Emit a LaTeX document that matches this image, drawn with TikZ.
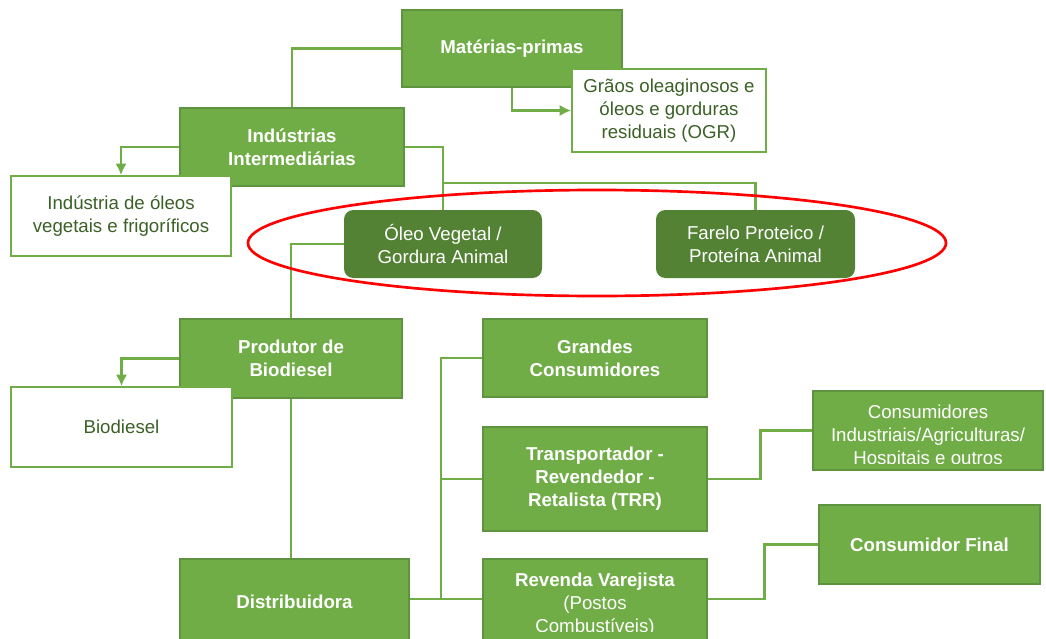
\documentclass[tikz,border=0pt]{standalone}
\usepackage{fontspec}
\setmainfont{Liberation Sans}
\usepackage{tikz}
\usetikzlibrary{arrows.meta}
\definecolor{verde}{HTML}{70AD47}
\definecolor{verdeborda}{HTML}{5E9440}
\definecolor{verdeescuro}{HTML}{548235}
\definecolor{textoverde}{HTML}{3B6127}

\begin{document}
\begin{tikzpicture}[x=0.75pt,y=-0.75pt]

\tikzset{txt/.style = {font=\fontsize{14}{17.25}\selectfont, align=center, inner sep=0pt}}
\tikzset{box/.style = {txt, draw=verdeborda, fill=verde, line width=1pt, text=white, font=\fontsize{14}{17.25}\selectfont\bfseries}}
\tikzset{wbox/.style = {txt, draw=verde, fill=white, line width=1.5pt, text=textoverde}}
\tikzset{dbox/.style = {txt, fill=verdeescuro, rounded corners=7pt, text=white}}
\tikzset{edge/.style = {draw=verde, line width=2pt}}
\tikzset{arrow/.style = {edge, -{Latex[length=8.5pt,width=8.5pt]}}}

\useasboundingbox (0,0) rectangle (1046,639);

% vertices
\node[box, minimum width=165pt, minimum height=57.75pt] (mat) at (512,48.5) {Matérias-primas};
\node[wbox, minimum width=145.5pt, minimum height=62.25pt] (grao) at (669,110.5) {Grãos oleaginosos e\\óleos e gorduras\\residuais (OGR)};
\node[box, minimum width=168pt, minimum height=58.5pt] (ind) at (292,147) {Indústrias\\Intermediárias};
\node[wbox, minimum width=165pt, minimum height=60pt] (ole) at (121,216) {Indústria de óleos\\vegetais e frigoríficos};
\node[dbox, minimum width=148.5pt, minimum height=51pt] (oleo) at (443,244) {Óleo Vegetal /\\Gordura Animal};
\node[dbox, minimum width=149.25pt, minimum height=51pt] (far) at (755.5,244) {Farelo Proteico /\\Proteína Animal};
\node[box, minimum width=166.5pt, minimum height=59.25pt] (prod) at (291,358.5) {Produtor de\\Biodiesel};
\node[wbox, minimum width=165.75pt, minimum height=60pt] (bio) at (121.5,427) {Biodiesel};
\node[box, minimum width=171.75pt, minimum height=64.5pt] (dist) at (294.5,602) {Distribuidora};
\node[box, minimum width=168pt, minimum height=58.5pt] (gc) at (595,358) {Grandes\\Consumidores};
\node[box, minimum width=168pt, minimum height=78pt] (trr) at (595,479) {Transportador -\\Revendedor -\\Retalista (TRR)};
\node[box, minimum width=172.5pt, minimum height=59.25pt,
  path picture={\clip ([yshift=5.25pt]path picture bounding box.south west) rectangle (path picture bounding box.north east);
    \node[txt, text=white] at ([yshift=-4.5pt]path picture bounding box.center) {Consumidores\\Industriais/Agriculturas/\\Hospitais e outros};}] (ci) at (928,430.5) {};
\node[box, minimum width=168pt, minimum height=64.5pt,
  path picture={\clip ([yshift=10.5pt]path picture bounding box.south west) rectangle (path picture bounding box.north east);
    \node[txt, text=white] at ([yshift=-2pt]path picture bounding box.center) {\textbf{Revenda Varejista}\\(Postos\\Combustíveis)};}] (rev) at (595,602) {};
\node[box, minimum width=165.75pt, minimum height=59.25pt] (cf) at (929.5,544.5) {Consumidor Final};

\coordinate (jind) at (443,183);
\coordinate (jdist) at (441,599);

%edges
\draw[edge] (mat.west) -| (ind.north);
\draw[arrow] (mat.south) |- (grao.west);
\draw[arrow] (ind.west) -| (ole.north);
\draw[edge] (ind.east) -| (oleo.north);
\draw[edge] (jind) -| (far.north);
\draw[edge] (oleo.west) -| (prod.north);
\draw[arrow] (prod.west) -| (bio.north);
\draw[edge] (prod.south) -- (prod.south |- dist.north);
\draw[edge] (dist.east |- jdist) -- (rev.west |- jdist);
\draw[edge] (jdist) |- (gc.west);
\draw[edge] (jdist |- trr.west) -- (trr.west);
\draw[edge] (trr.east) -- ++(53,0) |- (ci.west);
\draw[edge] (rev.east |- jdist) -- ++(57,0) |- (cf.west);

% highlight
\draw[red, line width=2pt] (597,243) ellipse [x radius=261.75pt, y radius=39.75pt];
\end{tikzpicture}
\end{document}
